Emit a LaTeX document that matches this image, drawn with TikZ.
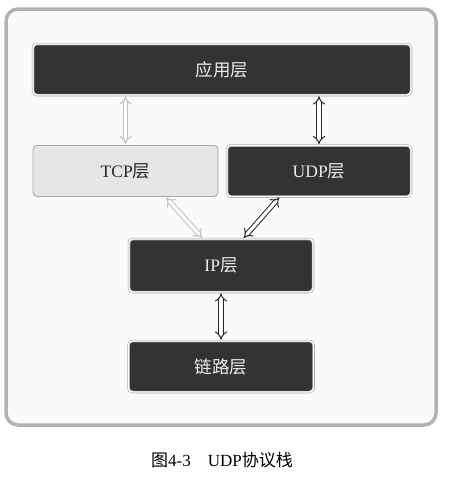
\documentclass[tikz,border=0pt]{standalone}
\usepackage{fontspec}
\setmainfont{Liberation Serif}
\newfontfamily\cjk{Noto Sans CJK SC}
\usetikzlibrary{arrows.meta}

\begin{document}
\begin{tikzpicture}[x=1pt,y=-1pt]
  \definecolor{layerdark}{HTML}{333333}
  \definecolor{layerlight}{HTML}{E6E6E6}
  \tikzstyle{layer}=[rounded corners=4pt, minimum height=51pt, inner sep=0pt,
    font=\fontsize{17.5}{20}\selectfont]
  \tikzstyle{dark layer}=[layer, fill=layerdark, draw=gray!70, double=white,
    double distance=1.3pt, line width=0.6pt, text=white!92!black]
  \tikzstyle{light layer}=[layer, fill=layerlight, draw=gray!70, line width=0.8pt,
    text=black!85]
  \tikzstyle{link arrow}=[{Implies}-{Implies}, double distance=3.2pt,
    line width=1pt, double=white, shorten >=1pt, shorten <=1pt]

  \useasboundingbox (0,0) rectangle (448,479);
  \draw[rounded corners=12pt, line width=3.5pt, draw=gray!60, fill=gray!4]
    (6,9) rectangle (436,425);

  % layers
  \node[dark layer, minimum width=378pt] (app) at (222,69.5) {\cjk 应用层};
  \node[light layer, minimum width=185pt] (tcp) at (125.5,171) {TCP{\cjk 层}};
  \node[dark layer, minimum width=184pt] (udp) at (319,171) {UDP{\cjk 层}};
  \node[dark layer, minimum width=184pt, minimum height=53pt] (ip) at (221,265.5) {IP{\cjk 层}};
  \node[dark layer, minimum width=185pt] (link) at (221,366.5) {\cjk 链路层};

  % arrows
  \draw[link arrow, draw=gray!50] (tcp.north |- app.south) -- (tcp.north);
  \draw[link arrow, draw=black!85] (udp.north |- app.south) -- (udp.north);
  \draw[link arrow, draw=gray!50] ([xshift=40pt]tcp.south) -- ([xshift=-18pt]ip.north);
  \draw[link arrow, draw=black!85] ([xshift=-39pt]udp.south) -- ([xshift=22pt]ip.north);
  \draw[link arrow, draw=black!85] (ip.south) -- (link.north);

  \node[font=\fontsize{17}{20}\selectfont] (caption) at (222,460)
    {{\cjk 图}4-3\quad UDP{\cjk 协议栈}};
\end{tikzpicture}
\end{document}
